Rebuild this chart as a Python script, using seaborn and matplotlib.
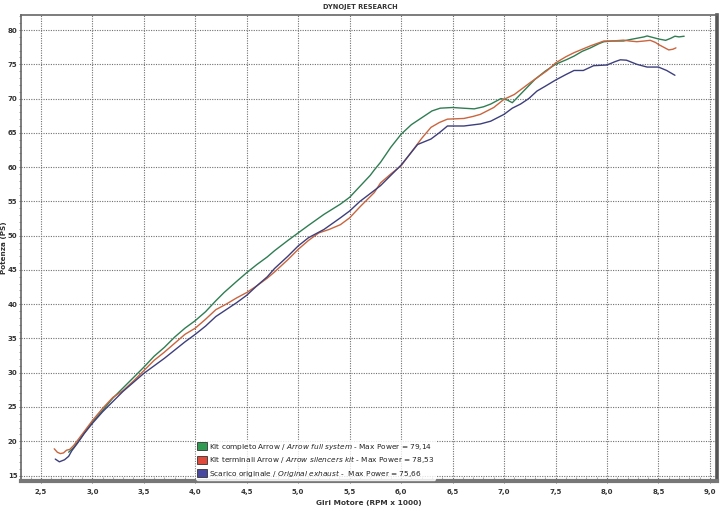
import pandas as pd
import matplotlib.pyplot as plt
import seaborn as sns
from matplotlib import font_manager
from matplotlib.patches import Patch
from matplotlib.ticker import MultipleLocator, FuncFormatter

plt.switch_backend("Agg")
sns.set_theme(style="white")

names = {f.name for f in font_manager.fontManager.ttflist}
BASE = "Liberation Sans Narrow" if "Liberation Sans Narrow" in names else "DejaVu Sans"
plt.rcParams["font.family"] = [BASE, "DejaVu Sans"]
plt.rcParams["mathtext.fontset"] = "custom"
plt.rcParams["mathtext.rm"] = BASE
plt.rcParams["mathtext.it"] = BASE + ":italic"
plt.rcParams["mathtext.bf"] = BASE + ":bold"

# Data: engine speed (RPM x 1000) and power (PS)
rpm_full = [2.77, 2.82, 2.88, 2.94, 3.00, 3.10, 3.20, 3.30, 3.40, 3.50, 3.60, 3.70,
            3.80, 3.90, 4.00, 4.10, 4.20, 4.28, 4.40, 4.50, 4.60, 4.70, 4.77, 4.90,
            5.00, 5.10, 5.25, 5.41, 5.50, 5.60, 5.70, 5.74, 5.80, 5.90, 6.00, 6.10,
            6.22, 6.30, 6.38, 6.50, 6.60, 6.71, 6.80, 6.87, 6.97, 7.03, 7.08, 7.19,
            7.30, 7.40, 7.50, 7.61, 7.68, 7.76, 7.84, 7.92, 7.97, 8.05, 8.16, 8.22,
            8.29, 8.36, 8.39, 8.45, 8.50, 8.57, 8.62, 8.66, 8.70, 8.75]
ps_full = [18.4, 19.1, 20.3, 21.6, 22.8, 24.5, 26.3, 27.8, 29.3, 30.8, 32.4, 33.7,
           35.2, 36.5, 37.6, 38.9, 40.5, 41.7, 43.3, 44.6, 45.8, 46.9, 47.8, 49.3,
           50.4, 51.5, 53.1, 54.6, 55.6, 57.2, 58.8, 59.6, 60.7, 62.9, 64.8, 66.2,
           67.4, 68.2, 68.6, 68.7, 68.6, 68.5, 68.8, 69.2, 70.0, 69.8, 69.4, 71.1,
           72.8, 74.0, 75.0, 75.7, 76.2, 76.9, 77.4, 78.0, 78.3, 78.4, 78.4, 78.6,
           78.8, 79.0, 79.14, 78.9, 78.7, 78.5, 78.8, 79.1, 79.0, 79.1]

rpm_silencer = [2.63, 2.66, 2.69, 2.72, 2.75, 2.78, 2.82, 2.88, 2.94, 3.00, 3.10, 3.20,
                3.30, 3.40, 3.50, 3.60, 3.70, 3.80, 3.90, 4.00, 4.10, 4.20, 4.30, 4.40,
                4.50, 4.60, 4.70, 4.77, 4.90, 5.00, 5.10, 5.20, 5.30, 5.41, 5.50, 5.60,
                5.74, 5.80, 5.90, 6.00, 6.12, 6.20, 6.29, 6.37, 6.45, 6.61, 6.70, 6.77,
                6.90, 7.00, 7.10, 7.26, 7.42, 7.50, 7.60, 7.68, 7.76, 7.84, 7.97, 8.05,
                8.16, 8.22, 8.29, 8.36, 8.42, 8.47, 8.50, 8.55, 8.60, 8.64, 8.67]
ps_silencer = [18.9, 18.4, 18.2, 18.3, 18.7, 18.8, 19.4, 20.6, 21.8, 23.0, 24.8, 26.4,
               27.4, 28.8, 30.3, 31.8, 33.0, 34.3, 35.6, 36.5, 37.8, 39.2, 40.0, 40.9,
               41.7, 42.7, 43.8, 44.7, 46.5, 48.0, 49.3, 50.4, 50.9, 51.6, 52.6, 54.2,
               56.3, 57.7, 59.0, 60.2, 62.6, 64.2, 65.8, 66.5, 67.0, 67.1, 67.4, 67.7,
               68.7, 69.9, 70.6, 72.4, 74.1, 75.2, 76.1, 76.7, 77.2, 77.7, 78.4, 78.4,
               78.53, 78.4, 78.3, 78.4, 78.5, 78.2, 77.9, 77.5, 77.1, 77.2, 77.4]

rpm_stock = [2.64, 2.68, 2.73, 2.77, 2.80, 2.86, 2.92, 3.00, 3.10, 3.20, 3.30, 3.40,
             3.50, 3.60, 3.70, 3.80, 3.90, 4.00, 4.10, 4.20, 4.30, 4.40, 4.50, 4.60,
             4.70, 4.77, 4.90, 5.00, 5.10, 5.25, 5.41, 5.50, 5.60, 5.74, 5.80, 5.90,
             6.00, 6.08, 6.16, 6.29, 6.37, 6.45, 6.61, 6.77, 6.87, 7.00, 7.08, 7.16,
             7.24, 7.32, 7.40, 7.50, 7.60, 7.68, 7.77, 7.87, 8.00, 8.08, 8.13, 8.19,
             8.29, 8.39, 8.50, 8.58, 8.66]
ps_stock = [17.4, 17.0, 17.3, 17.8, 18.6, 19.8, 21.1, 22.6, 24.3, 25.8, 27.3, 28.6,
            29.9, 31.0, 32.1, 33.3, 34.5, 35.6, 36.8, 38.2, 39.2, 40.2, 41.3, 42.7,
            44.0, 45.2, 47.0, 48.5, 49.7, 50.9, 52.6, 53.6, 55.0, 56.6, 57.3, 58.8,
            60.3, 61.8, 63.3, 64.1, 65.0, 66.0, 66.0, 66.3, 66.7, 67.7, 68.6, 69.2,
            70.0, 71.1, 71.8, 72.7, 73.5, 74.1, 74.1, 74.8, 74.9, 75.4, 75.66, 75.6,
            75.0, 74.6, 74.6, 74.1, 73.4]

series_names = ["full", "silencer", "stock"]
legend_labels = [
    r"Kit completo Arrow / $\it{Arrow\ full\ system}$ - Max Power = 79,14",
    r"Kit terminali Arrow / $\it{Arrow\ silencers\ kit}$ - Max Power = 78,53",
    r"Scarico originale / $\it{Original\ exhaust}$ -  Max Power = 75,66",
]
line_colors = {"full": "#2f7d52", "silencer": "#c9653f", "stock": "#3d3f7c"}
box_colors = ["#2f9a52", "#e04a3c", "#4848a0"]

df = pd.concat([
    pd.DataFrame({"rpm": rpm_full, "ps": ps_full, "kit": "full"}),
    pd.DataFrame({"rpm": rpm_silencer, "ps": ps_silencer, "kit": "silencer"}),
    pd.DataFrame({"rpm": rpm_stock, "ps": ps_stock, "kit": "stock"}),
], ignore_index=True)

fig = plt.figure(figsize=(7.2, 5.11), dpi=100)
ax = fig.add_axes([0.029, 0.0587, 0.967, 0.912])

sns.lineplot(data=df, x="rpm", y="ps", hue="kit", hue_order=series_names,
             palette=line_colors, estimator=None, sort=False, linewidth=1.0,
             legend=False, ax=ax)

ax.set_xlim(2.306, 9.07)
ax.set_ylim(14.2, 82.2)
ax.xaxis.set_major_locator(MultipleLocator(0.5))
ax.xaxis.set_minor_locator(MultipleLocator(0.1))
ax.yaxis.set_major_locator(MultipleLocator(5))
ax.yaxis.set_minor_locator(MultipleLocator(1))
ax.xaxis.set_major_formatter(FuncFormatter(lambda v, p: f"{v:.1f}".replace(".", ",")))
ax.yaxis.set_major_formatter(FuncFormatter(lambda v, p: f"{v:.0f}"))

ax.grid(True, which="major", linestyle=(0, (1, 1.2)), color="#707070", linewidth=0.8)
ax.tick_params(axis="both", which="major", labelsize=5.0, labelcolor="#333333",
               length=1.5, width=0.6, color="#555555", pad=1)
ax.tick_params(axis="x", which="minor", length=3, width=0.5, color="#888888",
               direction="in", bottom=True)
ax.tick_params(axis="y", which="minor", length=1.2, width=0.5, color="#777777",
               left=True)
ax.tick_params(axis="x", which="major", pad=4, bottom=True)
ax.tick_params(axis="y", which="major", left=True)
for lab in ax.get_xticklabels() + ax.get_yticklabels():
    lab.set_fontweight("bold")

for side in ["left", "top"]:
    ax.spines[side].set_color("#666666")
    ax.spines[side].set_linewidth(1.2)
ax.spines["right"].set_color("#555555")
ax.spines["right"].set_linewidth(2.6)
ax.spines["bottom"].set_color("#777777")
ax.spines["bottom"].set_linewidth(3.0)

ax.set_xlabel("Giri Motore (RPM x 1000)", fontsize=5.3, fontweight="bold",
              color="#333333")
ax.set_ylabel("Potenza (PS)", fontsize=5.2, fontweight="bold", color="#333333")
ax.xaxis.set_label_coords(0.5, -0.041)
ax.yaxis.set_label_coords(-0.0205, 0.5)
fig.text(0.5, 0.992, "DYNOJET RESEARCH", ha="center", va="top", fontsize=4.8,
         fontweight="bold", color="#333333")

handles = [Patch(facecolor=c, edgecolor="#333333", linewidth=0.6) for c in box_colors]
leg = ax.legend(handles, legend_labels, loc="lower left",
                bbox_to_anchor=(0.25, 0.0), frameon=True, fontsize=5.3,
                handlelength=1.3, handleheight=1.3, handletextpad=0.25,
                labelspacing=0.35, borderpad=0.15, borderaxespad=0.15)
leg.get_frame().set_facecolor("white")
leg.get_frame().set_edgecolor("white")
for t in leg.get_texts():
    t.set_color("#222222")

fig.savefig("out.png", dpi=100)
